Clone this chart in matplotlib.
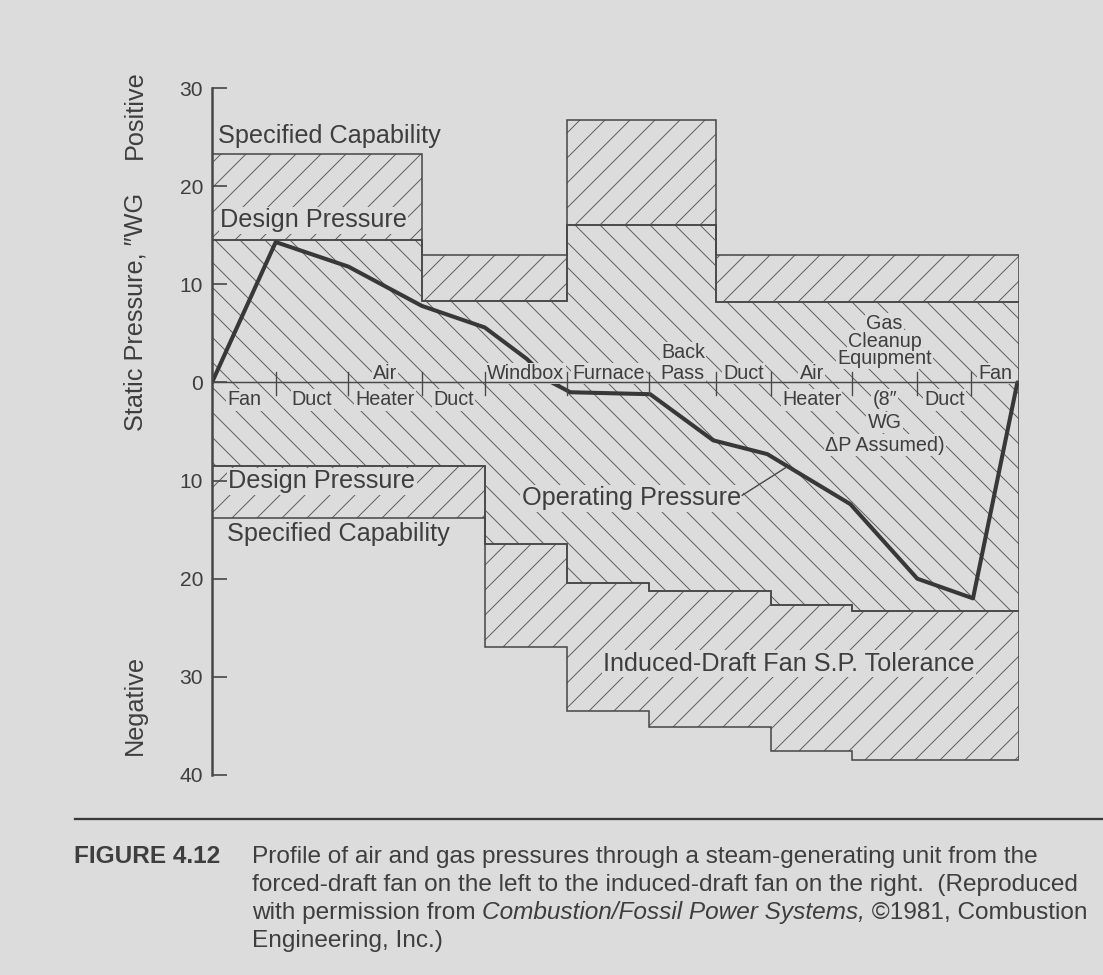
import matplotlib
matplotlib.use("Agg")
import matplotlib.pyplot as plt
from matplotlib.lines import Line2D

# ---------------- data ----------------
# flow path (0 = forced-draft fan inlet, 100 = induced-draft fan outlet)
boundaries = [0, 7.9, 16.9, 26.0, 33.8, 44.0, 54.2, 62.5, 69.3, 79.3, 87.4, 94.1, 100]
components = ["Fan", "Duct", "Air Heater", "Duct", "Windbox", "Furnace", "Back Pass",
              "Duct", "Air Heater", "Gas Cleanup Equipment", "Duct", "Fan"]

# positive side (above zero)
upper_edges = [0, 26.0, 44.0, 62.5, 100]
design_pos = [14.5, 8.3, 16.0, 8.2]
spec_pos = [23.3, 13.0, 26.7, 13.0]

# negative side (below zero)
lower_edges = [0, 33.8, 44.0, 54.2, 69.3, 79.3, 100]
design_neg = [-8.5, -16.5, -20.4, -21.3, -22.7, -23.3]
spec_neg = [-13.8, -27.0, -33.5, -35.1, -37.6, -38.5]

# operating pressure profile
op_x = [0, 7.9, 16.9, 26.0, 33.8, 39.0, 42.1, 44.4, 54.3, 62.1, 68.8, 79.1, 87.4, 94.3, 99.8]
op_p = [0, 14.3, 11.8, 7.8, 5.6, 2.4, 0.0, -1.0, -1.2, -5.9, -7.3, -12.4, -20.0, -22.0, 0.0]

y_ticks = [30, 20, 10, 0, -10, -20, -30, -40]
y_tick_labels = ["30", "20", "10", "0", "10", "20", "30", "40"]

# ---------------- style ----------------
W, H, DPI = 1103, 975, 75
BG = "#dcdcdc"
INK = "#3e3e3e"
HATCH = "#5a5a5a"
plt.rcParams["font.family"] = ["Liberation Sans", "DejaVu Sans"]
plt.rcParams["hatch.linewidth"] = 0.9
plt.rcParams["hatch.color"] = HATCH

BIG = 24.2
SMALL = 19
TICK = 20.2
CAP = 23.4


def step_xy(edges, vals):
    xs, ys = [], []
    for i, v in enumerate(vals):
        xs += [edges[i], edges[i + 1]]
        ys += [v, v]
    return xs, ys


fig = plt.figure(figsize=(W / DPI, H / DPI), dpi=DPI, facecolor=BG)
ax = fig.add_axes([212 / W, 1 - 775 / H, 807 / W, 687 / H])
ax.set_facecolor(BG)
ax.set_xlim(0, 100)
ax.set_ylim(-40, 30)

# regions
ux_s, uy_s = step_xy(upper_edges, spec_pos)
ux_d, uy_d = step_xy(upper_edges, design_pos)
lx_d, ly_d = step_xy(lower_edges, design_neg)
lx_s, ly_s = step_xy(lower_edges, spec_neg)

regions = [
    (ux_s + ux_d[::-1], uy_s + uy_d[::-1], "/"),    # upper tolerance
    (ux_d + lx_d[::-1], uy_d + ly_d[::-1], "\\"),   # operating range
    (lx_d + lx_s[::-1], ly_d + ly_s[::-1], "/"),    # lower tolerance
]
for xs, ys, h in regions:
    ax.fill(xs, ys, facecolor="none", edgecolor=HATCH, hatch=h, linewidth=0, zorder=1)
for xs, ys, h in regions:
    ax.fill(xs, ys, facecolor="none", edgecolor="#484848", linewidth=1.5, zorder=1.5)

# zero line with component ticks
ax.plot([0, 100], [0, 0], color="#484848", lw=1.4, zorder=4)
for b in boundaries[1:-1]:
    ax.plot([b, b], [1.1, -1.3], color="#484848", lw=1.3, zorder=4)

# operating pressure line
ax.plot(op_x, op_p, color="#383838", lw=3.9, solid_joinstyle="round",
        solid_capstyle="round", zorder=2.5)

knock = dict(facecolor=BG, edgecolor="none", boxstyle="square,pad=0.06")

# component labels: (lines above zero line, lines below)
comp_layout = [
    ([], ["Fan"]),
    ([], ["Duct"]),
    (["Air"], ["Heater"]),
    ([], ["Duct"]),
    (["Windbox"], []),
    (["Furnace"], []),
    (["Back", "Pass"], []),
    (["Duct"], []),
    (["Air"], ["Heater"]),
    (["Gas", "Cleanup", "Equipment"], ["(8\u2033", "WG", "\u0394P Assumed)"]),
    ([], ["Duct"]),
    (["Fan"], []),
]
for i, (above, below) in enumerate(comp_layout):
    xc = 0.5 * (boundaries[i] + boundaries[i + 1])
    if i == 9:
        base, step = 1.85, 1.8
    else:
        base, step = 0.35, 2.1
    for k, word in enumerate(reversed(above)):
        ax.text(xc, base + k * step, word, ha="center", va="baseline",
                fontsize=SMALL, color=INK, bbox=knock, zorder=3)
    for k, word in enumerate(below):
        ax.text(xc, -2.35 - k * 2.3, word, ha="center", va="baseline",
                fontsize=SMALL, color=INK, bbox=knock, zorder=3)

# big annotations
ax.text(0.75, 24.4, "Specified Capability", fontsize=BIG, color=INK, va="baseline", zorder=3)
ax.text(1.0, 15.8, "Design Pressure", fontsize=BIG, color=INK, va="baseline",
        bbox=knock, zorder=3)
ax.text(2.0, -10.8, "Design Pressure", fontsize=BIG, color=INK, va="baseline",
        bbox=knock, zorder=3)
ax.text(1.85, -16.2, "Specified Capability", fontsize=BIG, color=INK, va="baseline",
        bbox=knock, zorder=3)
ax.text(38.4, -12.5, "Operating Pressure", fontsize=BIG, color=INK, va="baseline",
        bbox=knock, zorder=3)
ax.plot([65.7, 71.25], [-11.5, -8.6], color="#444444", lw=1.3, zorder=3.5)
ax.text(48.5, -29.4, "Induced-Draft Fan S.P. Tolerance", fontsize=BIG, color=INK,
        va="baseline", bbox=knock, zorder=3)

# axes styling
for s in ["top", "right", "bottom"]:
    ax.spines[s].set_visible(False)
ax.spines["left"].set_color("#474747")
ax.spines["left"].set_linewidth(2.4)
ax.set_xticks([])
ax.set_yticks(y_ticks)
ax.set_yticklabels(y_tick_labels)
ax.tick_params(axis="y", direction="in", length=14, width=1.6, color="#474747",
               labelsize=TICK, labelcolor=INK, pad=8.5)

# rotated axis labels
fig.text(135 / W, 1 - 115 / H, "Positive", rotation=90, ha="center", va="center",
         fontsize=BIG, color=INK)
fig.text(135 / W, 1 - 312 / H, "Static Pressure, \u2033WG", rotation=90, ha="center",
         va="center", fontsize=BIG, color=INK)
fig.text(135 / W, 1 - 705 / H, "Negative", rotation=90, ha="center", va="center",
         fontsize=BIG, color=INK)

# caption
fig.add_artist(Line2D([75 / W, 1.0], [1 - 819 / H, 1 - 819 / H], color="#3a3a3a", lw=2.2))
fig.text(74 / W, 1 - 863 / H, "FIGURE 4.12", fontsize=CAP, fontweight="bold",
         color=INK, va="baseline")
cap_lines = [
    [("Profile of air and gas pressures through a steam-generating unit from the", "normal")],
    [("forced-draft fan on the left to the induced-draft fan on the right.  (Reproduced", "normal")],
    [("with permission from ", "normal"), ("Combustion/Fossil Power Systems,", "italic"),
     (" \u00a91981, Combustion", "normal")],
    [("Engineering, Inc.)", "normal")],
]
baselines = [863, 891, 919, 947]
renderer = fig.canvas.get_renderer()
for pieces, yb in zip(cap_lines, baselines):
    xpx = 252
    for txt, st in pieces:
        t = fig.text(xpx / W, 1 - yb / H, txt, fontsize=CAP, style=st, color=INK,
                     va="baseline")
        bb = t.get_window_extent(renderer)
        xpx = bb.x1

fig.savefig("out.png", dpi=DPI, facecolor=BG)
